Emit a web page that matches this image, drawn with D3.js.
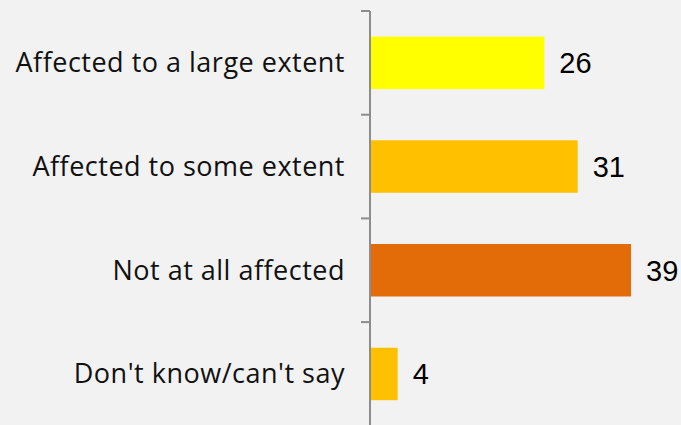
<!DOCTYPE html>
<html>
<head>
<meta charset="utf-8">
<script src="https://cdn.jsdelivr.net/npm/d3@7"></script>
<style>
  html, body { margin: 0; padding: 0; background: #f2f2f2; }
  svg { display: block; }
</style>
</head>
<body>
<svg id="chart" width="681" height="425"></svg>
<script>
// Survey responses, share of respondents (%)
const categories = ["Affected to a large extent", "Affected to some extent", "Not at all affected", "Don't know/can't say"];
const values = [26, 31, 39, 4];
const colors = ["#ffff00", "#ffc000", "#e36c09", "#ffc000"];

const width = 681, height = 425;
const margin = { top: 11, right: 0, bottom: 0, left: 370 };
const svg = d3.select("#chart");

svg.append("rect").attr("width", width).attr("height", height).attr("fill", "#f2f2f2");

const x = d3.scaleLinear().domain([0, 39]).range([margin.left, 630]);
const y = d3.scaleBand().domain(categories).range([margin.top, margin.top + 4 * 103.7]).paddingInner(0.494).paddingOuter(0.247);

// Category axis with tick marks on band boundaries
const axisG = svg.append("g");
axisG.append("line")
  .attr("x1", margin.left).attr("x2", margin.left)
  .attr("y1", margin.top).attr("y2", height)
  .attr("stroke", "#8c8c8c").attr("stroke-width", 2);

const step = y.step();
const boundaries = d3.range(categories.length).map(i => margin.top + i * step);
axisG.selectAll("line.tick").data(boundaries).join("line")
  .attr("class", "tick")
  .attr("x1", margin.left - 9).attr("x2", margin.left)
  .attr("y1", d => d).attr("y2", d => d)
  .attr("stroke", "#8c8c8c").attr("stroke-width", 2);

axisG.selectAll("text").data(categories).join("text")
  .attr("x", margin.left - 25)
  .attr("y", d => y(d) + y.bandwidth() / 2)
  .attr("dy", "0.35em")
  .attr("text-anchor", "end")
  .attr("font-family", "'Open Sans', sans-serif")
  .attr("font-size", 27)
  .attr("letter-spacing", 0.5)
  .attr("fill", "#111")
  .text(d => d);

// Bars
svg.append("g").selectAll("rect").data(values).join("rect")
  .attr("x", x(0) + 1)
  .attr("y", (d, i) => y(categories[i]))
  .attr("width", d => x(d) - x(0))
  .attr("height", y.bandwidth())
  .attr("fill", (d, i) => colors[i]);

// Value labels
svg.append("g").selectAll("text").data(values).join("text")
  .attr("x", d => x(d) + 16)
  .attr("y", (d, i) => y(categories[i]) + y.bandwidth() / 2)
  .attr("dy", "0.36em")
  .attr("font-family", "'Liberation Sans', Arial, sans-serif")
  .attr("font-size", 29)
  .attr("fill", "#000")
  .text(d => d);
</script>
</body>
</html>
